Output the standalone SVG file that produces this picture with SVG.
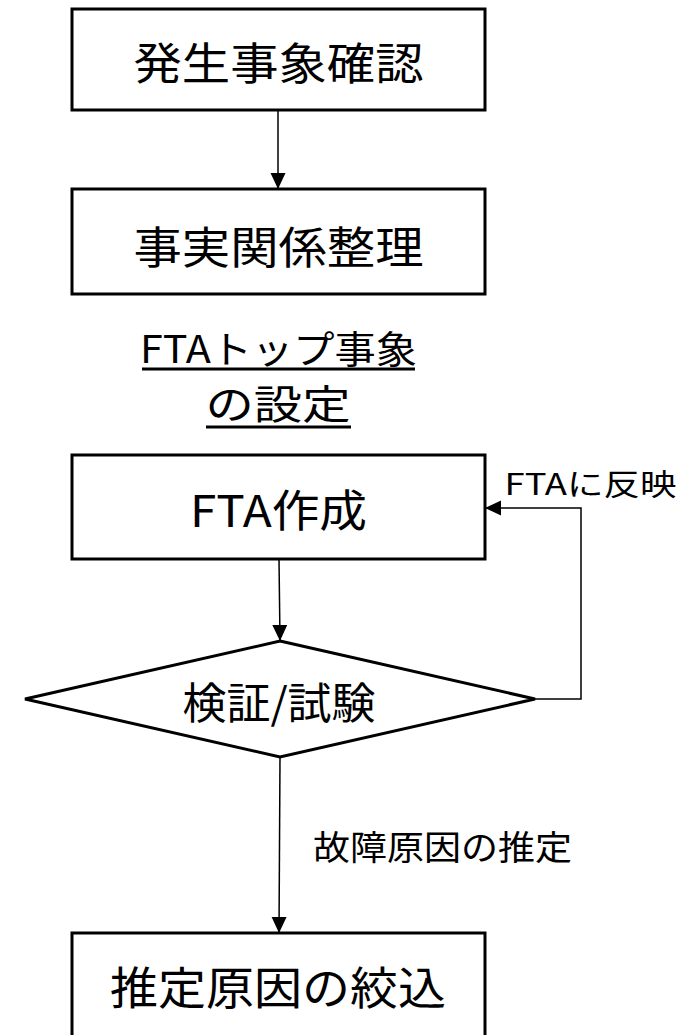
<svg xmlns="http://www.w3.org/2000/svg" width="690" height="1035" viewBox="0 0 690 1035">
  <style>
    .box { fill: #ffffff; stroke: #000000; stroke-width: 3; }
    .conn { fill: none; stroke: #000000; stroke-width: 1.5; }
    .t { font-family: "Noto Sans CJK JP", "Noto Sans", sans-serif; fill: #000000; text-anchor: middle; }
    .ul { stroke: #000000; stroke-width: 3; }
  </style>
  <defs>
    <marker id="arrow" markerUnits="userSpaceOnUse" markerWidth="17" markerHeight="16" refX="16" refY="7.5" orient="auto">
      <path d="M0,0 L16,7.5 L0,15 Z" fill="#000000"/>
    </marker>
  </defs>
  <rect width="690" height="1035" fill="#ffffff"/>

  <g id="connectors">
    <path class="conn" d="M278,110 L278,189" marker-end="url(#arrow)"/>
    <path class="conn" d="M279,559 L280,641" marker-end="url(#arrow)"/>
    <path class="conn" d="M535,699 L581,699 L581,508 L485,508" marker-end="url(#arrow)"/>
    <path class="conn" d="M280,757 L279,933" marker-end="url(#arrow)"/>
    <text class="t" x="590.5" y="495" font-size="30" textLength="172" lengthAdjust="spacingAndGlyphs">FTAに反映</text>
    <text class="t" x="442.5" y="860" font-size="34" textLength="259" lengthAdjust="spacingAndGlyphs">故障原因の推定</text>
  </g>

  <g id="node-hassei">
    <rect class="box" x="72" y="9" width="413" height="101"/>
    <text class="t" x="278.5" y="80" font-size="44" textLength="290" lengthAdjust="spacingAndGlyphs">発生事象確認</text>
  </g>

  <g id="node-jijitsu">
    <rect class="box" x="72" y="189" width="413" height="105"/>
    <text class="t" x="278.5" y="264" font-size="44" textLength="290" lengthAdjust="spacingAndGlyphs">事実関係整理</text>
  </g>

  <g id="node-top-event">
    <text class="t" x="278.5" y="363" font-size="38" textLength="277" lengthAdjust="spacingAndGlyphs">FTAトップ事象</text>
    <line class="ul" x1="142" y1="369" x2="415" y2="369"/>
    <text class="t" x="278" y="419" font-size="40" textLength="145" lengthAdjust="spacingAndGlyphs">の設定</text>
    <line class="ul" x1="206" y1="427" x2="351" y2="427"/>
  </g>

  <g id="node-fta">
    <rect class="box" x="72" y="455" width="413" height="104"/>
    <text class="t" x="278.5" y="527" font-size="44" textLength="177" lengthAdjust="spacingAndGlyphs">FTA作成</text>
  </g>

  <g id="node-verify">
    <polygon class="box" points="280,641 535,699 280,757 25,699"/>
    <text class="t" x="279" y="719" font-size="43" textLength="193" lengthAdjust="spacingAndGlyphs">検証/試験</text>
  </g>

  <g id="node-narrow">
    <rect class="box" x="72" y="933" width="413" height="120"/>
    <text class="t" x="278" y="1005" font-size="45" textLength="336" lengthAdjust="spacingAndGlyphs">推定原因の絞込</text>
  </g>
</svg>
